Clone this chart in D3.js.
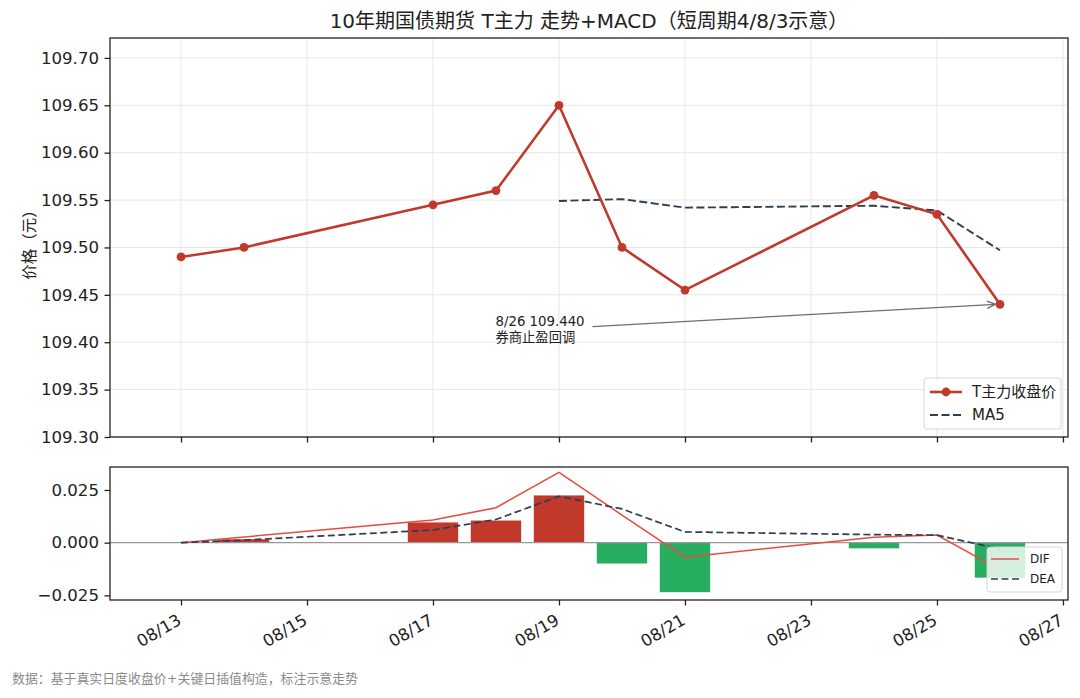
<!DOCTYPE html>
<html>
<head>
<meta charset="utf-8">
<script src="https://d3js.org/d3.v7.min.js"></script>
<style>
  body { margin: 0; background: #fff; }
  text { font-family: "DejaVu Sans", "Noto Sans CJK SC", sans-serif; }
</style>
</head>
<body>
<div id="chart"></div>
<script>
// trading days (2020) and closing prices
var dates = ["2020-08-13", "2020-08-14", "2020-08-17", "2020-08-18", "2020-08-19",
             "2020-08-20", "2020-08-21", "2020-08-24", "2020-08-25", "2020-08-26"];
var closes = [109.49, 109.50, 109.545, 109.56, 109.65, 109.50, 109.455, 109.555, 109.535, 109.44];
// MA5 starts on the 5th day
var ma5 = [null, null, null, null, 109.549, 109.551, 109.542, 109.544, 109.539, 109.497];
// MACD (short periods 4/8/3)
var dif  = [0.0000, 0.0027, 0.0108, 0.0166, 0.0334, 0.0131, -0.0069, 0.0026, 0.0036, -0.0128];
var dea  = [0.0000, 0.0012, 0.0060, 0.0110, 0.0220, 0.0160, 0.0051, 0.0038, 0.0036, -0.0030];
var hist = [0.0000, 0.0016, 0.0096, 0.0105, 0.0224, -0.0099, -0.0235, -0.0027, 0.0002, -0.0166];
var priceTicks = [109.30, 109.35, 109.40, 109.45, 109.50, 109.55, 109.60, 109.65, 109.70];
var macdTicks = [-0.025, 0, 0.025];
var dateTicks = ["2020-08-13", "2020-08-15", "2020-08-17", "2020-08-19", "2020-08-21",
                 "2020-08-23", "2020-08-25", "2020-08-27"];

var parse = d3.timeParse("%Y-%m-%d");
var DAY = 864e5;
var days = dates.map(parse);

var W = 1080, H = 698;
var svg = d3.select("#chart").append("svg").attr("width", W).attr("height", H);

var left = 110, right = 1068;
var top1 = 38, bot1 = 437;
var top2 = 467, bot2 = 600;

var x = d3.scaleTime()
  .domain([new Date(parse("2020-08-13").getTime() - 1.127 * DAY),
           new Date(parse("2020-08-27").getTime() + 0.08 * DAY)])
  .range([left, right]);
var y1 = d3.scaleLinear().domain([109.30, 109.721]).range([bot1, top1]);
var y2 = d3.scaleLinear().domain([-0.0272, 0.0359]).range([bot2, top2]);

var tickDates = dateTicks.map(parse);
var fmtDate = d3.timeFormat("%m/%d");

// ---------- top panel ----------
var g1 = svg.append("g");
// grid
g1.selectAll(".hgrid").data(priceTicks).enter().append("line")
  .attr("x1", left).attr("x2", right)
  .attr("y1", function(d) { return y1(d); }).attr("y2", function(d) { return y1(d); })
  .style("stroke", "#e6e6e6").style("stroke-width", 1);
g1.selectAll(".vgrid").data(tickDates).enter().append("line")
  .attr("x1", function(d) { return x(d); }).attr("x2", function(d) { return x(d); })
  .attr("y1", top1).attr("y2", bot1)
  .style("stroke", "#e6e6e6").style("stroke-width", 1);

var yAxis1 = d3.axisLeft(y1).tickValues(priceTicks).tickFormat(d3.format(".2f")).tickSize(5.5).tickPadding(5.5);
var ya1 = g1.append("g").attr("transform", "translate(" + left + ",0)").call(yAxis1);
var xAxis1 = d3.axisBottom(x).tickValues(tickDates).tickFormat("").tickSize(5.5);
var xa1 = g1.append("g").attr("transform", "translate(0," + bot1 + ")").call(xAxis1);

// MA5
var maLine = d3.line()
  .defined(function(d) { return d.v != null; })
  .x(function(d) { return x(d.t); }).y(function(d) { return y1(d.v); });
g1.append("path")
  .datum(days.map(function(t, i) { return {t: t, v: ma5[i]}; }))
  .attr("d", maLine)
  .style("fill", "none").style("stroke", "#2c3e50").style("stroke-width", 1.9)
  .style("stroke-dasharray", "8,3.5");

// price line
var priceLine = d3.line().x(function(d) { return x(d.t); }).y(function(d) { return y1(d.v); });
var priceData = days.map(function(t, i) { return {t: t, v: closes[i]}; });
g1.append("path").datum(priceData).attr("d", priceLine)
  .style("fill", "none").style("stroke", "#c0392b").style("stroke-width", 2.6);
g1.selectAll(".dot").data(priceData).enter().append("circle")
  .attr("cx", function(d) { return x(d.t); }).attr("cy", function(d) { return y1(d.v); })
  .attr("r", 4.4).style("fill", "#c0392b");

// annotation
var last = priceData[priceData.length - 1];
var annX = x(parse("2020-08-18")) - 0.5, annY = y1(109.416);
g1.append("text").attr("x", annX).attr("y", annY - 1.5)
  .style("font-size", "13.3px").style("fill", "#222").text("8/26 109.440");
g1.append("text").attr("x", annX).attr("y", annY + 14.5)
  .style("font-size", "13.3px").style("fill", "#222").text("券商止盈回调");
svg.append("defs").append("marker")
  .attr("id", "arr").attr("viewBox", "0 0 10 10").attr("refX", 9).attr("refY", 5)
  .attr("markerWidth", 8).attr("markerHeight", 8).attr("orient", "auto")
  .append("path").attr("d", "M1,1.5 L9,5 L1,8.5").style("fill", "none")
  .style("stroke", "#6e6e6e").style("stroke-width", 1.4);
g1.append("line")
  .attr("x1", annX + 97).attr("y1", annY - 0.5)
  .attr("x2", x(last.t) - 4.5).attr("y2", y1(last.v))
  .attr("marker-end", "url(#arr)")
  .style("stroke", "#6e6e6e").style("stroke-width", 1.3);

// frame
g1.append("rect").attr("x", left).attr("y", top1).attr("width", right - left).attr("height", bot1 - top1)
  .style("fill", "none").style("stroke", "#222").style("stroke-width", 1.3);

// legend top
var lg1 = g1.append("g").attr("transform", "translate(924,378)");
lg1.append("rect").attr("width", 137).attr("height", 51).attr("rx", 3)
  .style("fill", "#fff").style("fill-opacity", 0.85).style("stroke", "#d5d5d5");
lg1.append("line").attr("x1", 6).attr("x2", 38).attr("y1", 14).attr("y2", 14)
  .style("stroke", "#c0392b").style("stroke-width", 2.6);
lg1.append("circle").attr("cx", 22).attr("cy", 14).attr("r", 4.4).style("fill", "#c0392b");
lg1.append("text").attr("x", 48).attr("y", 19).text("T主力收盘价").style("font-size", "15px").style("fill", "#222");
lg1.append("line").attr("x1", 6).attr("x2", 38).attr("y1", 37).attr("y2", 37)
  .style("stroke", "#2c3e50").style("stroke-width", 1.9).style("stroke-dasharray", "8,3.5");
lg1.append("text").attr("x", 48).attr("y", 42).text("MA5").style("font-size", "15px").style("fill", "#222");

// ---------- bottom panel ----------
var g2 = svg.append("g");
var barW = x(new Date(days[0].getTime() + 0.4 * DAY)) - x(new Date(days[0].getTime() - 0.4 * DAY));
g2.selectAll(".bar").data(days.map(function(t, i) { return {t: t, v: hist[i]}; }))
  .enter().append("rect")
  .attr("x", function(d) { return x(d.t) - barW / 2; })
  .attr("width", barW)
  .attr("y", function(d) { return y2(Math.max(0, d.v)); })
  .attr("height", function(d) { return Math.abs(y2(d.v) - y2(0)); })
  .style("fill", function(d) { return d.v >= 0 ? "#c0392b" : "#27ae60"; });

g2.append("line").attr("x1", left).attr("x2", right).attr("y1", y2(0)).attr("y2", y2(0))
  .style("stroke", "#999").style("stroke-width", 1.2);

var difLine = d3.line().x(function(d) { return x(d.t); }).y(function(d) { return y2(d.v); });
g2.append("path").datum(days.map(function(t, i) { return {t: t, v: dif[i]}; }))
  .attr("d", difLine).style("fill", "none").style("stroke", "#e74c3c").style("stroke-width", 1.5);
g2.append("path").datum(days.map(function(t, i) { return {t: t, v: dea[i]}; }))
  .attr("d", difLine).style("fill", "none").style("stroke", "#2c3e50").style("stroke-width", 1.7)
  .style("stroke-dasharray", "7,3.5");

var yAxis2 = d3.axisLeft(y2).tickValues(macdTicks).tickFormat(d3.format(".3f")).tickSize(5.5).tickPadding(5.5);
var ya2 = g2.append("g").attr("transform", "translate(" + left + ",0)").call(yAxis2);
var xAxis2 = d3.axisBottom(x).tickValues(tickDates).tickFormat(fmtDate).tickSize(5.5);
var xa2 = g2.append("g").attr("transform", "translate(0," + bot2 + ")").call(xAxis2);

g2.append("rect").attr("x", left).attr("y", top2).attr("width", right - left).attr("height", bot2 - top2)
  .style("fill", "none").style("stroke", "#222").style("stroke-width", 1.3);

// legend bottom
var lg2 = g2.append("g").attr("transform", "translate(987,547)");
lg2.append("rect").attr("width", 75).attr("height", 45).attr("rx", 3)
  .style("fill", "#fff").style("fill-opacity", 0.8).style("stroke", "#d5d5d5");
lg2.append("line").attr("x1", 4).attr("x2", 32).attr("y1", 12).attr("y2", 12)
  .style("stroke", "#e74c3c").style("stroke-width", 1.5);
lg2.append("text").attr("x", 43).attr("y", 16.3).text("DIF").style("font-size", "12px").style("fill", "#222");
lg2.append("line").attr("x1", 4).attr("x2", 32).attr("y1", 32).attr("y2", 32)
  .style("stroke", "#2c3e50").style("stroke-width", 1.7).style("stroke-dasharray", "7,3.5");
lg2.append("text").attr("x", 43).attr("y", 36.3).text("DEA").style("font-size", "12px").style("fill", "#222");

// axis styling
[ya1, xa1, ya2, xa2].forEach(function(a) {
  a.select(".domain").remove();
  a.selectAll(".tick line").style("stroke", "#222").style("stroke-width", 1.3);
  a.selectAll("text").style("font-size", "16.6px").style("fill", "#222")
    .style("font-family", "'DejaVu Sans', sans-serif");
});
xa2.selectAll(".tick text")
  .style("text-anchor", "end")
  .attr("x", 0).attr("y", 0).attr("dy", 0)
  .attr("transform", "translate(1,23.5) rotate(-30)");

// title, labels, note
svg.append("text").attr("x", (left + right) / 2).attr("y", 28).attr("text-anchor", "middle")
  .style("font-size", "20px").style("fill", "#222")
  .text("10年期国债期货 T主力 走势+MACD（短周期4/8/3示意）");
svg.append("text").attr("transform", "translate(35,241) rotate(-90)")
  .attr("text-anchor", "middle").style("font-size", "15.5px").style("fill", "#222")
  .text("价格（元）");
svg.append("text").attr("x", 12).attr("y", 683)
  .style("font-size", "12.9px").style("fill", "#8a8a8a")
  .text("数据：基于真实日度收盘价+关键日插值构造，标注示意走势");
</script>
</body>
</html>
